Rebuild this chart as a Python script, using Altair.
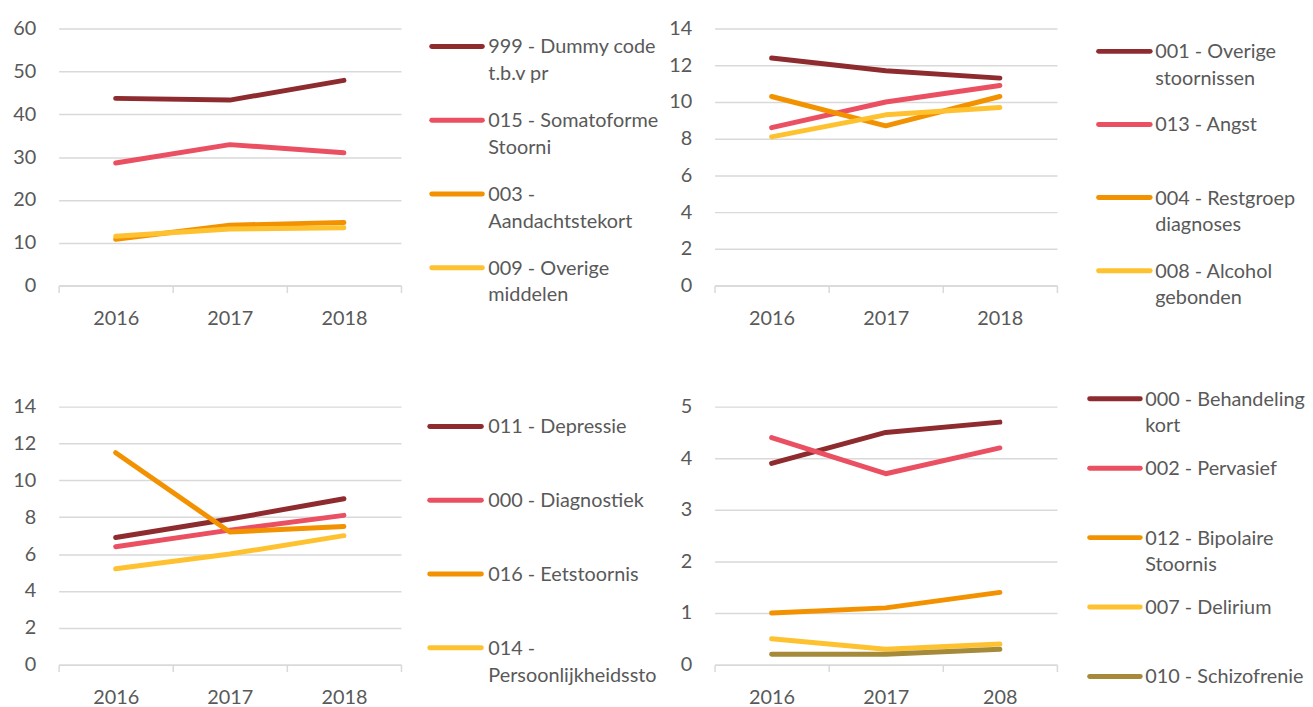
import altair as alt
import pandas as pd

FONT = "Lato"
TEXT_COLOR = "#595959"
GRID_COLOR = "#d9d9d9"

years = ["2016", "2017", "2018"]
years_p4 = ["2016", "2017", "208"]

colors4 = ["#8E2B2F", "#EA5062", "#F39200", "#FEC231"]
colors5 = ["#8E2B2F", "#EA5062", "#F39200", "#FEC231", "#A58A3A"]

p1_labels = ["999 - Dummy code\nt.b.v pr", "015 - Somatoforme\nStoorni",
             "003 -\nAandachtstekort", "009 - Overige\nmiddelen"]
p1_values = [[43.7, 43.3, 47.9], [28.6, 32.9, 31.0], [10.8, 14.1, 14.7], [11.5, 13.2, 13.5]]
p1_ticks = [0, 10, 20, 30, 40, 50, 60]

p2_labels = ["001 - Overige\nstoornissen", "013 - Angst",
             "004 - Restgroep\ndiagnoses", "008 - Alcohol\ngebonden"]
p2_values = [[12.4, 11.7, 11.3], [8.6, 10.0, 10.9], [10.3, 8.7, 10.3], [8.1, 9.3, 9.7]]
p2_ticks = [0, 2, 4, 6, 8, 10, 12, 14]

p3_labels = ["011 - Depressie", "000 - Diagnostiek", "016 - Eetstoornis",
             "014 -\nPersoonlijkheidssto"]
p3_values = [[6.9, 7.9, 9.0], [6.4, 7.3, 8.1], [11.5, 7.2, 7.5], [5.2, 6.0, 7.0]]
p3_ticks = [0, 2, 4, 6, 8, 10, 12, 14]

p4_labels = ["000 - Behandeling\nkort", "002 - Pervasief", "012 - Bipolaire\nStoornis",
             "007 - Delirium", "010 - Schizofrenie"]
p4_values = [[3.9, 4.5, 4.7], [4.4, 3.7, 4.2], [1.0, 1.1, 1.4], [0.5, 0.3, 0.4], [0.2, 0.2, 0.3]]
p4_ticks = [0, 1, 2, 3, 4, 5]

PW = 345
LW = 5


def make_df(labels, values, yrs):
    rows = []
    for lab, vals in zip(labels, values):
        for yr, v in zip(yrs, vals):
            rows.append({"series": lab, "year": yr, "value": v})
    return pd.DataFrame(rows)


def panel(labels, values, yrs, colors, ticks, ph):
    df = make_df(labels, values, yrs)
    return alt.Chart(df).mark_line(strokeWidth=LW, strokeCap="round", strokeJoin="round").encode(
        x=alt.X("year:N", sort=yrs, title=None,
                scale=alt.Scale(type="band", paddingInner=0, paddingOuter=0),
                axis=alt.Axis(labelAngle=0, tickBand="extent", domainColor=GRID_COLOR,
                              domainWidth=1.5, tickColor=GRID_COLOR, tickWidth=1.5,
                              tickSize=7, labelPadding=16, grid=False)),
        y=alt.Y("value:Q", title=None,
                scale=alt.Scale(domain=[ticks[0], ticks[-1]], nice=False),
                axis=alt.Axis(values=ticks, domain=False, ticks=False, grid=True,
                              gridColor=GRID_COLOR, gridWidth=1.5, labelPadding=23)),
        color=alt.Color("series:N", scale=alt.Scale(domain=labels, range=colors), legend=None),
        order=alt.Order("year:N"),
    ).properties(width=PW, height=ph)


def legend(labels, colors, width, rx, rx2, tx, yrange, ph):
    df = pd.DataFrame({"series": labels})
    y = alt.Y("series:N", sort=labels, axis=None,
              scale=alt.Scale(type="point", range=yrange, padding=0))
    col = alt.Color("series:N", scale=alt.Scale(domain=labels, range=colors), legend=None)
    rules = alt.Chart(df).mark_rule(strokeWidth=LW, strokeCap="round").encode(
        x=alt.value(rx), x2=alt.value(rx2), y=y, color=col)
    texts = alt.Chart(df).mark_text(align="left", baseline="top", dy=-9, lineBreak="\n",
                                    lineHeight=27, font=FONT, fontSize=20,
                                    color=TEXT_COLOR).encode(
        x=alt.value(tx), y=y, text="series:N")
    return alt.layer(rules, texts).properties(width=width, height=ph)


c1 = panel(p1_labels, p1_values, years, colors4, p1_ticks, 259)
l1 = legend(p1_labels, colors4, 316, 31, 82, 88, [18, 241], 259)
c2 = panel(p2_labels, p2_values, years, colors4, p2_ticks, 259)
l2 = legend(p2_labels, colors4, 240, 42, 94, 99, [23, 244], 259)
c3 = panel(p3_labels, p3_values, years, colors4, p3_ticks, 260)
l3 = legend(p3_labels, colors4, 316, 29, 81, 88, [20, 243], 260)
c4 = panel(p4_labels, p4_values, years_p4, colors5, p4_ticks, 260)
l4 = legend(p4_labels, colors5, 240, 33, 84, 89, [-8, 272], 260)

chart = alt.concat(
    c1, l1, c2, l2, c3, l3, c4, l4,
    columns=4, spacing={"row": 122, "column": 0}, bounds="flush", align="each",
).resolve_scale(
    color="independent", x="independent", y="independent"
).properties(
    padding={"top": 8, "left": 4, "right": 0, "bottom": 0}
).configure_view(stroke=None).configure_axis(
    labelFont=FONT, labelFontSize=20, labelColor=TEXT_COLOR
)

chart.save("out.html", embed_options={"renderer": "svg", "actions": False})
